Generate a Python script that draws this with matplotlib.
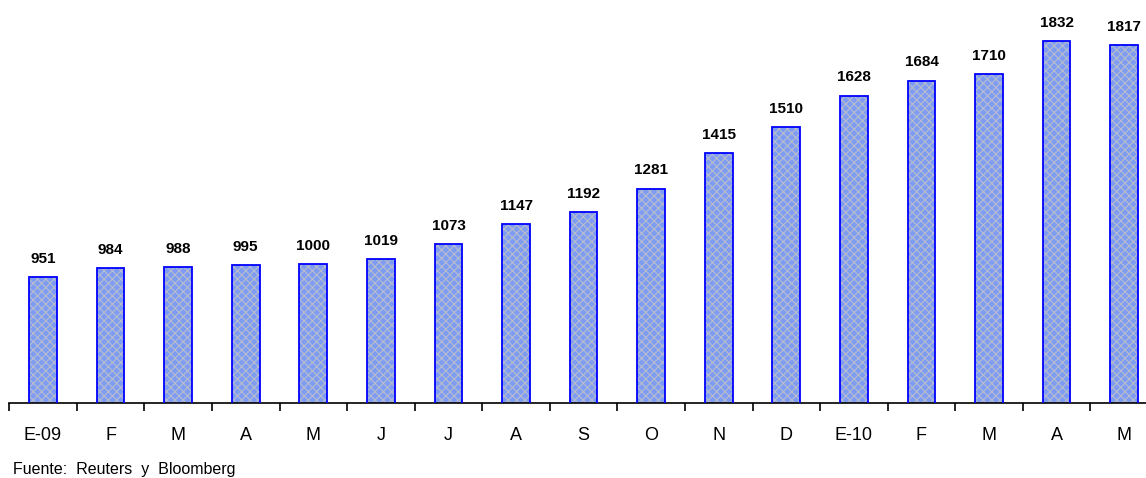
import matplotlib
matplotlib.use("Agg")
import matplotlib.pyplot as plt

categories = ["E-09", "F", "M", "A", "M", "J", "J", "A", "S", "O", "N", "D",
              "E-10", "F", "M", "A", "M"]
values = [951, 984, 988, 995, 1000, 1019, 1073, 1147, 1192, 1281, 1415, 1510,
          1628, 1684, 1710, 1832, 1817]
source = "Fuente:  Reuters  y  Bloomberg"

plt.rcParams['font.family'] = ['Liberation Sans', 'DejaVu Sans']
plt.rcParams['hatch.color'] = '#b8bccc'
plt.rcParams['hatch.linewidth'] = 0.8

W, H = 1146, 478
fig = plt.figure(figsize=(W / 100, H / 100), dpi=100)
left = 9.2 / W
right = 1158 / W
bottom = (H - 403) / H
ax = fig.add_axes([left, bottom, right - left, 1 - bottom])

x = list(range(len(values)))
ax.bar(x, values, width=0.41, color='#7d9cf2', hatch='xxxx', linewidth=0,
       edgecolor='#b8bccc', zorder=2)
ax.bar(x, values, width=0.41, fill=False, edgecolor='#0000ff', linewidth=1.3,
       zorder=3)

for xi, v in zip(x, values):
    ax.annotate(str(v), (xi, v), xytext=(0, 8), textcoords='offset points',
                ha='center', va='bottom', fontsize=11, fontweight='bold')

ax.set_xlim(-0.5, len(values) - 0.5)
ax.set_ylim(480, 1985)
ax.set_xticks(x)
ax.set_xticklabels(categories, fontsize=13)
ax.tick_params(axis='x', which='major', length=0, pad=17)
ax.set_xticks([i - 0.5 for i in range(len(values) + 1)], minor=True)
ax.tick_params(axis='x', which='minor', length=6, width=1.2, direction='out')
ax.set_yticks([])
for s in ['top', 'right', 'left']:
    ax.spines[s].set_visible(False)
ax.spines['bottom'].set_linewidth(1.2)

fig.text(13 / W, 1 - 474 / H, source, fontsize=11.5, ha='left', va='baseline')

fig.savefig("out.png", dpi=100)
